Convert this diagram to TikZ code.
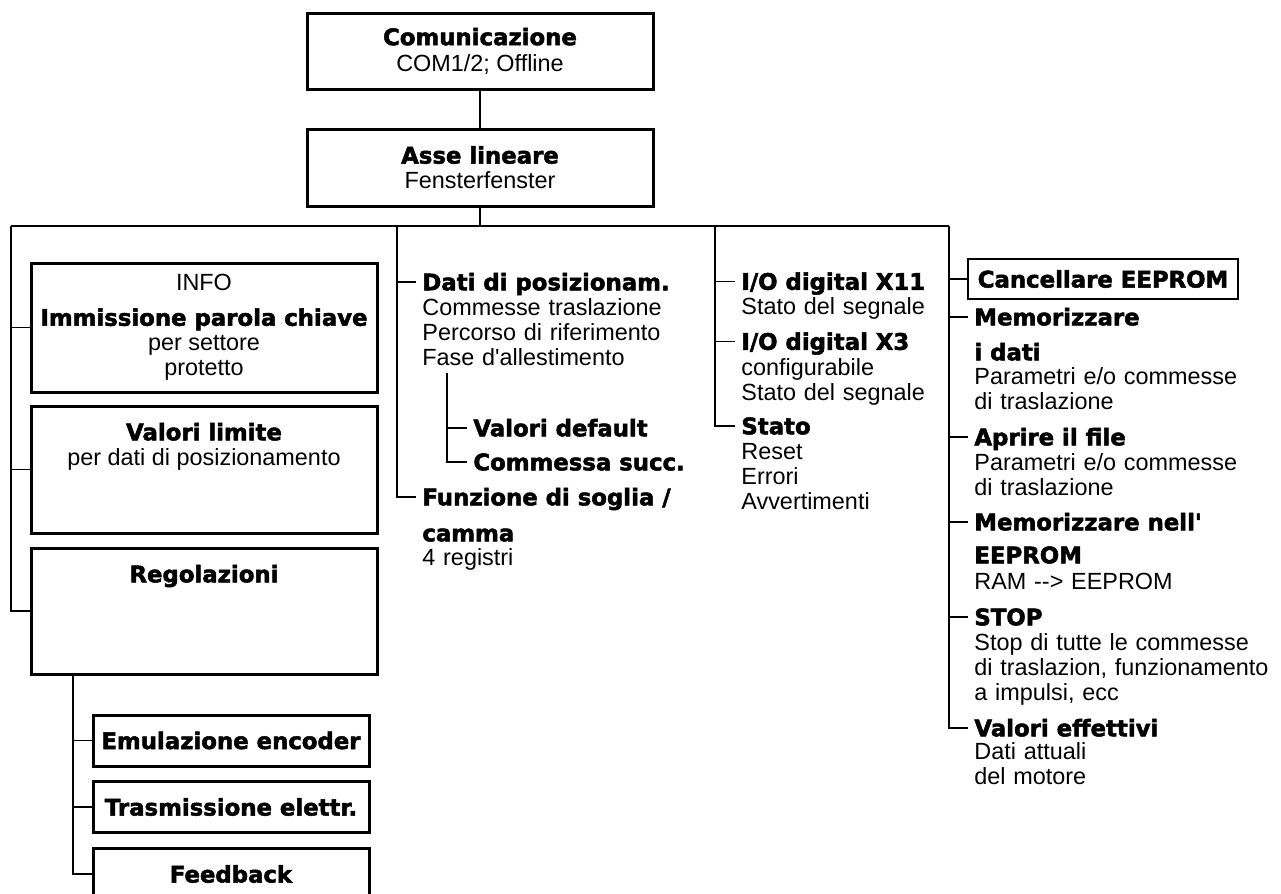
\documentclass[tikz,border=0pt]{standalone}
\usepackage{fontspec}
\setmainfont{Liberation Sans}
\newfontfamily\heavyfont{DejaVu Sans}[BoldFeatures={FakeBold=2.2}]
\usetikzlibrary{positioning}
\newcommand{\regtext}{\fontsize{11.7}{12.5}\selectfont}
\newcommand{\hdtext}{\heavyfont\bfseries\fontsize{11.4}{12.5}\selectfont}

\begin{document}
\begin{tikzpicture}[
  x=0.5pt, y=-0.5pt,
  box/.style={rectangle, draw=black, line width=1.5pt, minimum width=173pt,
              align=center, inner sep=0pt, font=\regtext},
  subbox/.style={rectangle, draw=black, line width=1.5pt, minimum width=138pt,
                 minimum height=25.5pt, inner sep=0pt, font=\hdtext},
  headbox/.style={rectangle, draw=black, line width=1pt, minimum width=135pt,
                  minimum height=20pt, inner sep=0pt, font=\hdtext},
  head/.style={anchor=west, inner xsep=3pt, inner ysep=0pt, font=\hdtext,
               text height=9.5pt, text depth=1.2pt},
  desc/.style={anchor=base west, inner sep=0pt, font=\regtext, text width=170pt, align=left},
  branch/.style={line width=0.6pt, draw=black}
]
\useasboundingbox (0,0) rectangle (1281,894);

\node[box, minimum height=38pt] (comm) at (480,51) {{\hdtext Comunicazione}\\[0.5pt]COM1/2; Offline};
\node[box, minimum height=38.5pt] (asse) at (480,167.5) {{\hdtext Asse lineare}\\Fensterfenster};

\coordinate (busL) at (11,226);
\coordinate (bus2) at (397,226);
\coordinate (bus3) at (715,226);
\coordinate (busR) at (949,226);

\node[box, minimum height=64.5pt] (info) at (204,327.5)
  {INFO\\[5pt]{\hdtext Immissione parola chiave}\\per settore\\protetto};
\node[box, minimum height=63.5pt] (limite) at (204,469.5) {};
\node[head, anchor=center, inner xsep=0pt] (limitet) at (204,432) {Valori limite};
\node[anchor=base, inner sep=0pt, font=\regtext] (limited) at (204,465.5) {per dati di posizionamento};
\node[box, minimum height=63pt] (regol) at (204,611) {};
\node[head, anchor=center, inner xsep=0pt] (regolt) at (204,574) {Regolazioni};

\coordinate (regfork) at (73,674);
\node[subbox] (emul) at (231,740.5) {Emulazione encoder};
\node[subbox] (trasm) at (231,807) {Trasmissione elettr.};
\node[subbox] (feedb) at (231,874) {Feedback};

\node[head] (dati) at (416,282) {Dati di posizionam.};
\node[desc] (datid) at (422,315) {Commesse traslazione\\Percorso di riferimento\\Fase d\textquotesingle allestimento};
\coordinate (fork) at (447,373);
\node[head] (vdef) at (467,428) {Valori default};
\node[head] (csucc) at (467,462) {Commessa succ.};
\node[head] (funz) at (416,497) {Funzione di soglia /};
\node[head] (funz2) at (416,533) {camma};
\node[desc] (funzd) at (422,565.5) {4 registri};

\node[head] (io11) at (735,281.5) {I/O digital X11};
\node[desc] (io11d) at (741,314.5) {Stato del segnale};
\node[head] (io3) at (735,341.5) {I/O digital X3};
\node[desc] (io3d) at (741,375.5) {configurabile\\Stato del segnale};
\node[head] (stato) at (735,426) {Stato};
\node[desc] (statod) at (741,459.5) {Reset\\Errori\\Avvertimenti};

\node[headbox] (canc) at (1103,279) {Cancellare EEPROM};
\node[head] (memo) at (968,317) {Memorizzare};
\node[head] (memo2) at (968,352) {i dati};
\node[desc] (memod) at (974,384.5) {Parametri e/o commesse\\di traslazione};
\node[head] (apri) at (968,437) {Aprire il file};
\node[desc] (aprid) at (974,470) {Parametri e/o commesse\\di traslazione};
\node[head] (eep) at (968,522) {Memorizzare nell'};
\node[head] (eep2) at (968,555) {EEPROM};
\node[desc] (eepd) at (974,589.5) {RAM -{}-> EEPROM};
\node[head] (stop) at (968,617) {STOP};
\node[desc] (stopd) at (974,650.5) {Stop di tutte le commesse\\di traslazion, funzionamento\\a impulsi, ecc};
\node[head] (eff) at (968,728) {Valori effettivi};
\node[desc] (effd) at (974,759.5) {Dati attuali\\del motore};

\draw[branch] (comm) -- (asse);
\draw[branch] (asse.south) -- (asse.south |- busL);
\draw[branch] (busL) -- (busR);
\draw[branch] (busL) |- (info.west);
\draw[branch] (busL) |- (limite.west);
\draw[branch] (busL) |- (regol.west);
\draw[branch] (regfork) |- (emul.west);
\draw[branch] (regfork) |- (trasm.west);
\draw[branch] (regfork) |- (feedb.west);
\draw[branch] (bus2) |- (dati.west);
\draw[branch] (bus2) |- (funz.west);
\draw[branch] (fork) |- (vdef.west);
\draw[branch] (fork) |- (csucc.west);
\draw[branch] (bus3) |- (io11.west);
\draw[branch] (bus3) |- (io3.west);
\draw[branch] (bus3) |- (stato.west);
\draw[branch] (busR) |- (canc.west);
\draw[branch] (busR) |- (memo.west);
\draw[branch] (busR) |- (apri.west);
\draw[branch] (busR) |- (eep.west);
\draw[branch] (busR) |- (stop.west);
\draw[branch] (busR) |- (eff.west);
\end{tikzpicture}
\end{document}
